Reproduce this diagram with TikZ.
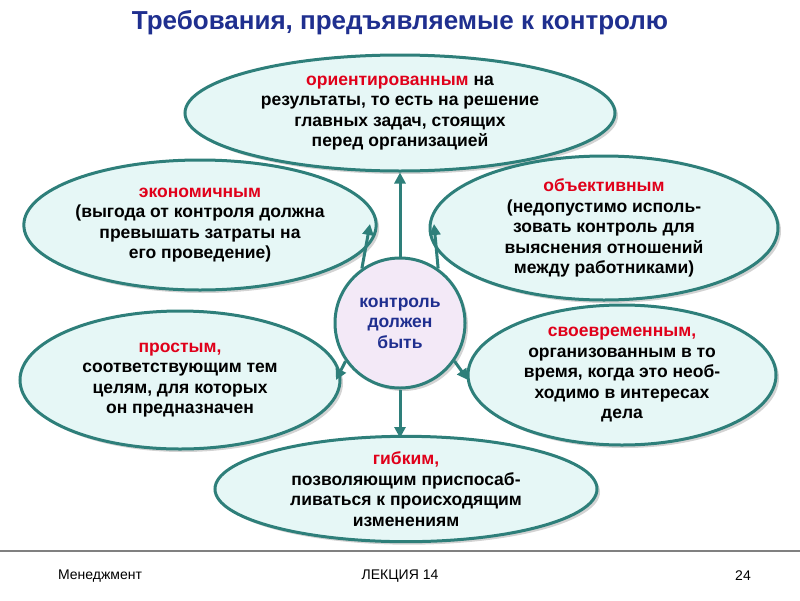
\documentclass[tikz,border=0pt]{standalone}
\usepackage{fontspec}
\setmainfont{Liberation Sans}
\usetikzlibrary{shapes.geometric,shadows,arrows.meta}
\definecolor{edge}{HTML}{2E7F7A}
\definecolor{fillc}{HTML}{E6F7F6}
\definecolor{cfill}{HTML}{F3E9F7}
\definecolor{kw}{HTML}{E0001A}
\definecolor{ttl}{HTML}{1F2F8F}
\tikzset{
  oval/.style={ellipse,draw=edge,line width=3pt,fill=fillc,inner sep=0pt,align=center,
    font=\fontsize{17.5}{20.5}\selectfont\bfseries,drop shadow={shadow xshift=3pt,shadow yshift=-3pt,opacity=0.35}},
  arr/.style={-{Triangle[length=11pt,width=11pt]},draw=edge,line width=3pt}
}
\newcommand{\kwr}[1]{\textcolor{kw}{#1}}
\begin{document}
\begin{tikzpicture}[x=1pt,y=-1pt]
\useasboundingbox (0,0) rectangle (800,600);
\node[font=\fontsize{26}{30}\selectfont\bfseries,text=ttl] (title) at (400,23) {Требования, предъявляемые к контролю};
\node[oval,minimum width=430,minimum height=116] (t) at (400,113) {\kwr{ориентированным} на\\результаты, то есть на решение\\главных задач, стоящих\\перед организацией};
\node[oval,minimum width=344,minimum height=130] (lu) at (200,225) {\kwr{экономичным}\\(выгода от контроля должна\\превышать затраты на\\его проведение)};
\node[oval,minimum width=348,minimum height=144] (ru) at (604,228) {\kwr{объективным}\\(недопустимо исполь-\\зовать контроль для\\выяснения отношений\\между работниками)};
\node[oval,minimum width=320,minimum height=138] (ld) at (180,380) {\kwr{простым,}\\соответствующим тем\\целям, для которых\\он предназначен};
\node[oval,minimum width=308,minimum height=140] (rd) at (622,375) {\kwr{своевременным,}\\организованным в то\\время, когда это необ-\\ходимо в интересах\\дела};
\node[oval,minimum width=382,minimum height=102] (b) at (406,489) {\kwr{гибким,}\\позволяющим приспосаб-\\ливаться к происходящим\\изменениям};
\node[oval,fill=cfill,minimum width=130,minimum height=130,text=ttl] (c) at (400,323) {контроль\\должен\\быть};
\draw[arr] (c.north) -- (t.south);
\draw[arr] (c.125) -- (370,224);
\draw[arr] (c.55) -- (434,224);
\draw[arr] (c.215) -- (336,380);
\draw[arr] (c.325) -- (468,380);
\draw[arr] (c.south) -- (400,438);
\draw[gray,line width=1.5pt] (0,551) -- (800,551);
\node[font=\fontsize{14}{16}\selectfont] (f1) at (100,576) {Менеджмент};
\node[font=\fontsize{14}{16}\selectfont] (f2) at (400,576) {ЛЕКЦИЯ 14};
\node[font=\fontsize{14}{16}\selectfont] (f3) at (743,576) {24};
\end{tikzpicture}
\end{document}
